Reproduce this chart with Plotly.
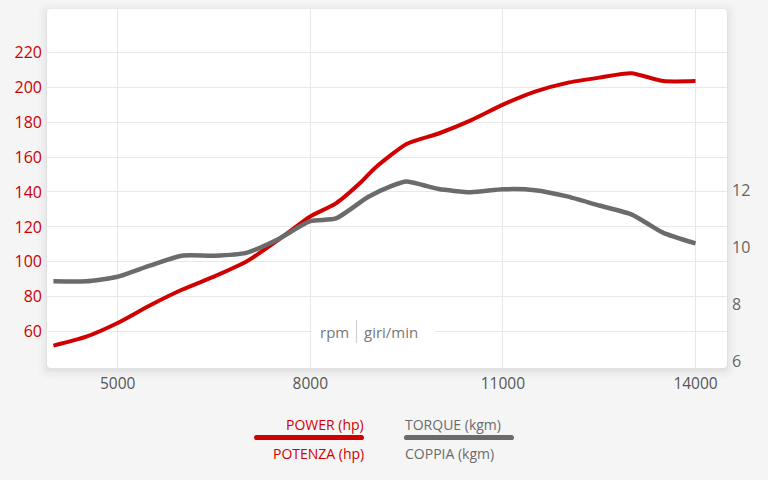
import plotly.graph_objects as go

# ---- data ----
rpm_power = [4000, 4500, 5000, 5500, 6000, 6500, 7000, 7500, 8000, 8400, 8800, 9000,
             9500, 10000, 10500, 11000, 11500, 12000, 12500, 13000, 13500, 14000]
power_hp = [52, 57, 65, 75, 84, 91.5, 100, 112.5, 126, 133.5, 146, 153.5,
            167.5, 173.5, 181, 190, 197.5, 202.5, 205.5, 208, 203.5, 203.5]

rpm_torque = [4000, 4500, 5000, 5500, 6000, 6500, 7000, 7500, 8000, 8400, 8900, 9250,
              9500, 9750, 10000, 10500, 11000, 11500, 12000, 12500, 13000, 13250, 13500, 14000]
torque_kgm = [8.82, 8.82, 8.98, 9.37, 9.72, 9.72, 9.82, 10.3, 10.93, 11.03, 11.78, 12.15,
              12.32, 12.2, 12.06, 11.95, 12.05, 12.02, 11.8, 11.48, 11.17, 10.85, 10.52, 10.15]

x_ticks = [5000, 8000, 11000, 14000]
hp_ticks = [60, 80, 100, 120, 140, 160, 180, 200, 220]
kgm_ticks = [6, 8, 10, 12]

RED = "#d10000"
GRAY = "#6b6b6b"
FONT = "Open Sans"

fig = go.Figure()
fig.add_trace(go.Scatter(x=rpm_torque, y=torque_kgm, yaxis="y2", mode="lines",
                         line=dict(color=GRAY, width=4.5, shape="spline", smoothing=0.6),
                         hoverinfo="skip", showlegend=False))
fig.add_trace(go.Scatter(x=rpm_power, y=power_hp, mode="lines",
                         line=dict(color=RED, width=4, shape="spline", smoothing=0.6),
                         hoverinfo="skip", showlegend=False))

W, H = 768, 480
L, R, T, B = 47, 41, 9, 112
pw, ph = W - L - R, H - T - B


def px(x):
    return (x - L) / pw


def py(y):
    return (H - B - y) / ph


def rrect(x0, y0, x1, y1, r):
    # rounded rectangle path in paper coords, pixel inputs
    rx, ry = r / pw, r / ph
    X0, X1 = px(x0), px(x1)
    Y0, Y1 = py(y1), py(y0)  # bottom, top in paper
    return (f"M {X0+rx},{Y0} L {X1-rx},{Y0} Q {X1},{Y0} {X1},{Y0+ry} "
            f"L {X1},{Y1-ry} Q {X1},{Y1} {X1-rx},{Y1} L {X0+rx},{Y1} "
            f"Q {X0},{Y1} {X0},{Y1-ry} L {X0},{Y0+ry} Q {X0},{Y0} {X0+rx},{Y0} Z")


shapes = []
# soft shadow
for grow, alpha in [(9, 0.012), (6, 0.015), (3, 0.02), (1, 0.03)]:
    shapes.append(dict(type="path", xref="paper", yref="paper", layer="below",
                       path=rrect(L - grow, T - grow + 2, W - R + grow, H - B + grow + 2, 4 + grow),
                       fillcolor=f"rgba(0,0,0,{alpha})", line=dict(width=0)))
# white card
shapes.append(dict(type="path", xref="paper", yref="paper", layer="below",
                   path=rrect(L, T, W - R, H - B, 4),
                   fillcolor="white", line=dict(width=0)))
# white box behind rpm label (hides gridlines)
shapes.append(dict(type="rect", xref="paper", yref="paper", layer="above",
                   x0=px(311.5), x1=px(435), y0=py(348), y1=py(317),
                   fillcolor="white", line=dict(width=0)))
# rpm separator
shapes.append(dict(type="line", xref="paper", yref="paper", layer="above",
                   x0=px(356.5), x1=px(356.5), y0=py(343), y1=py(320),
                   line=dict(color="#d0d0d0", width=1.2)))


def legend_bar(xa, xb, yc, color, thick=5.2):
    r = thick / 2
    out = [dict(type="line", xref="paper", yref="paper",
                x0=px(xa + r), x1=px(xb - r), y0=py(yc), y1=py(yc),
                line=dict(color=color, width=thick))]
    for cx in (xa + r, xb - r):
        out.append(dict(type="circle", xref="paper", yref="paper",
                        x0=px(cx - r), x1=px(cx + r), y0=py(yc + r), y1=py(yc - r),
                        fillcolor=color, line=dict(width=0)))
    return out


shapes += legend_bar(254, 364, 437.5, RED)
shapes += legend_bar(404, 514, 437.5, GRAY)

annotations = [
    dict(xref="paper", yref="paper", x=px(350.5), y=py(332), xanchor="right", yanchor="middle",
         text="rpm", showarrow=False,
         font=dict(family=FONT, size=15, color="#777777")),
    dict(xref="paper", yref="paper", x=px(362), y=py(332), xanchor="left", yanchor="middle",
         text="giri/min", showarrow=False,
         font=dict(family=FONT, size=15, color="#777777")),
    dict(xref="paper", yref="paper", x=px(366), y=py(424), xanchor="right", yanchor="middle",
         text="POWER (hp)", showarrow=False, font=dict(family=FONT, size=14, color=RED)),
    dict(xref="paper", yref="paper", x=px(366), y=py(453), xanchor="right", yanchor="middle",
         text="POTENZA (hp)", showarrow=False, font=dict(family=FONT, size=14, color=RED)),
    dict(xref="paper", yref="paper", x=px(403), y=py(424), xanchor="left", yanchor="middle",
         text="TORQUE (kgm)", showarrow=False, font=dict(family=FONT, size=14, color=GRAY)),
    dict(xref="paper", yref="paper", x=px(403), y=py(453), xanchor="left", yanchor="middle",
         text="COPPIA (kgm)", showarrow=False, font=dict(family=FONT, size=14, color=GRAY)),
]

fig.update_layout(
    width=W, height=H,
    margin=dict(l=L, r=R, t=T, b=B, pad=0),
    paper_bgcolor="#f5f5f5",
    plot_bgcolor="rgba(0,0,0,0)",
    showlegend=False,
    hovermode=False,
    font=dict(family=FONT),
    xaxis=dict(range=[3900, 14490], tickvals=x_ticks, ticktext=[str(v) for v in x_ticks],
               showgrid=True, gridcolor="#e8e8e8", gridwidth=1, zeroline=False,
               showline=False, ticks="", ticklabelstandoff=4,
               tickfont=dict(family=FONT, size=15.5, color="#555555")),
    yaxis=dict(range=[39.2, 244.8], tickvals=hp_ticks, showgrid=True, gridcolor="#e8e8e8",
               gridwidth=1, zeroline=False, showline=False, ticks="", ticklabelstandoff=4,
               tickfont=dict(family=FONT, size=16, color="#cc0000")),
    yaxis2=dict(range=[5.78, 18.375], tickvals=kgm_ticks, overlaying="y", side="right",
                showgrid=False, zeroline=False, showline=False, ticks="", ticklabelstandoff=4,
                tickfont=dict(family=FONT, size=16, color="#666666")),
    shapes=shapes,
    annotations=annotations,
)

fig.write_html("out.html", config={"displayModeBar": False, "staticPlot": True},
               post_script="document.body.style.margin='0';document.body.style.background='#f5f5f5';")
